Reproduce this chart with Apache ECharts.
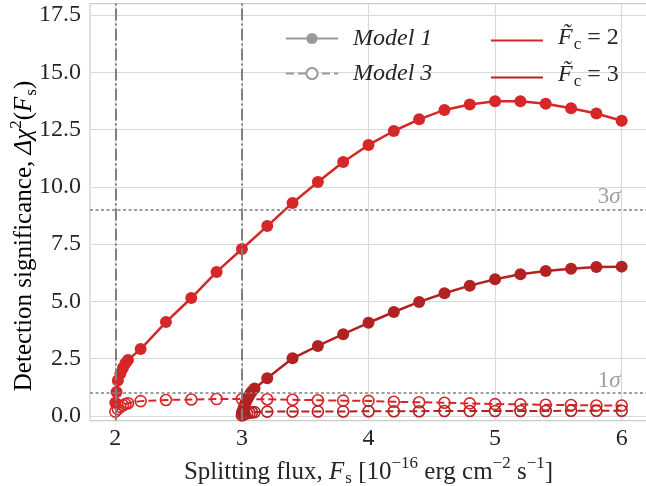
<!DOCTYPE html>
<html>
<head>
<meta charset="utf-8">
<script src="https://cdn.jsdelivr.net/npm/echarts@6/dist/echarts.min.js"></script>
<style>
  html, body { margin: 0; padding: 0; background: #fff; }
  #chart { width: 646px; height: 486px; }
</style>
</head>
<body>
<div id="chart"></div>
<script>
// Model 1, F_c = 2
const m1c2X = [2.0, 2.01, 2.02, 2.04, 2.06, 2.08, 2.1, 2.2, 2.4, 2.6, 2.8, 3.0, 3.2, 3.4, 3.6, 3.8, 4.0, 4.2, 4.4, 4.6, 4.8, 5.0, 5.2, 5.4, 5.6, 5.8, 6.0];
const m1c2Y = [0.58, 1.05, 1.55, 1.85, 2.1, 2.3, 2.45, 2.92, 4.1, 5.15, 6.29, 7.29, 8.29, 9.3, 10.21, 11.09, 11.83, 12.44, 12.95, 13.36, 13.6, 13.74, 13.74, 13.63, 13.43, 13.2, 12.89];
// Model 1, F_c = 3
const m1c3X = [3.0, 3.01, 3.02, 3.03, 3.04, 3.05, 3.06, 3.07, 3.08, 3.1, 3.2, 3.4, 3.6, 3.8, 4.0, 4.2, 4.4, 4.6, 4.8, 5.0, 5.2, 5.4, 5.6, 5.8, 6.0];
const m1c3Y = [0.15, 0.3, 0.45, 0.6, 0.72, 0.82, 0.92, 1.0, 1.08, 1.2, 1.65, 2.52, 3.06, 3.57, 4.07, 4.54, 4.98, 5.36, 5.69, 5.97, 6.19, 6.33, 6.43, 6.5, 6.52];
// Model 3, F_c = 2
const m3c2X = [2.0, 2.02, 2.04, 2.06, 2.08, 2.1, 2.2, 2.4, 2.6, 2.8, 3.0, 3.2, 3.4, 3.6, 3.8, 4.0, 4.2, 4.4, 4.6, 4.8, 5.0, 5.2, 5.4, 5.6, 5.8, 6.0];
const m3c2Y = [0.19, 0.3, 0.4, 0.47, 0.52, 0.56, 0.65, 0.7, 0.72, 0.74, 0.74, 0.73, 0.71, 0.69, 0.67, 0.66, 0.62, 0.6, 0.58, 0.55, 0.52, 0.51, 0.49, 0.48, 0.46, 0.46];
// Model 3, F_c = 3
const m3c3X = [3.0, 3.01, 3.02, 3.04, 3.06, 3.08, 3.1, 3.2, 3.4, 3.6, 3.8, 4.0, 4.2, 4.4, 4.6, 4.8, 5.0, 5.2, 5.4, 5.6, 5.8, 6.0];
const m3c3Y = [0.03, 0.06, 0.09, 0.12, 0.14, 0.16, 0.17, 0.19, 0.2, 0.2, 0.2, 0.21, 0.21, 0.21, 0.22, 0.22, 0.22, 0.22, 0.22, 0.23, 0.23, 0.23];

const xTicks = [2, 3, 4, 5, 6];
const yTicks = [0, 2.5, 5, 7.5, 10, 12.5, 15, 17.5];
const thresholdX = [2, 3];          // vertical dash-dot lines
const sigmaLevels = [1, 9];         // 1 sigma, 3 sigma
const sigmaNames = ['1', '3'];

const RED2 = '#d62728';
const RED3 = '#b22222';
const GRAY = '#808080';
const TXT = '#262626';
const SERIF = '"Liberation Serif", "DejaVu Serif", serif';

function pairs(xs, ys) {
  return xs.map((x, i) => [x, ys[i]]);
}

const baseRich = {
  t: { fontSize: 25, fontFamily: SERIF, color: TXT, padding: [0, 0, 3, 0], verticalAlign: 'bottom' },
  i: { fontSize: 25, fontFamily: SERIF, fontStyle: 'italic', color: TXT, padding: [0, 0, 3, 0], verticalAlign: 'bottom' },
  sub: { fontSize: 17, fontFamily: SERIF, color: TXT, padding: [0, 0, 0, 1], verticalAlign: 'bottom' },
  sup: { fontSize: 17, fontFamily: SERIF, color: TXT, padding: [0, 0, 15, 0], verticalAlign: 'bottom' }
};

var chart = echarts.init(document.getElementById('chart'));

const model1 = { lineStyle: { width: 2.5 }, symbol: 'circle', symbolSize: 12 };
function openStyle(color) {
  return {
    symbol: 'circle',
    symbolSize: 11,
    itemStyle: { color: 'rgba(255,255,255,0)', borderColor: color, borderWidth: 1.6 },
    lineStyle: { color: color, width: 2, type: [8, 4] }
  };
}

let option = {
  animation: false,
  backgroundColor: '#fff',
  grid: {
    left: 90, right: -1, top: 3.6, bottom: 65.4, show: true, borderColor: '#cccccc', borderWidth: 1.2,
    outerBoundsMode: 'none', containLabel: false
  },
  xAxis: {
    type: 'value', min: 1.8, max: 6.2,
    name: '{t|Splitting flux, }{i|F}{sub|s}{t| [10}{sup|−16}{t| erg cm}{sup|−2}{t| s}{sup|−1}{t|]}',
    nameLocation: 'middle', nameGap: 29,
    nameTextStyle: { rich: baseRich },
    axisLine: { show: false }, axisTick: { show: false, customValues: xTicks },
    axisLabel: { customValues: xTicks, fontFamily: SERIF, fontSize: 24, color: TXT, margin: 6, formatter: v => String(v) },
    splitLine: { show: true, lineStyle: { color: '#d9d9d9', width: 1.2 } }
  },
  yAxis: {
    type: 'value', min: -0.2, max: 18,
    axisLine: { show: false }, axisTick: { show: false, customValues: yTicks },
    axisLabel: { customValues: yTicks, fontFamily: SERIF, fontSize: 24, color: TXT, margin: 9, formatter: v => v.toFixed(1) },
    splitLine: { show: true, lineStyle: { color: '#d9d9d9', width: 1.2 } }
  },
  graphic: [{
    type: 'text', x: 24, y: 236, rotation: Math.PI / 2,
    style: {
      text: '{t|Detection significance, }{i|Δχ}{sup|2}{t|(}{i|F}{sub|s}{t|)}',
      rich: baseRich, align: 'center', verticalAlign: 'middle'
    }
  }],
  legend: [
    {
      orient: 'vertical', left: 280, top: 21, itemWidth: 52, itemHeight: 14, itemGap: 10,
      data: ['Model 1', 'Model 3'],
      textStyle: { fontFamily: SERIF, fontStyle: 'italic', fontSize: 24, lineHeight: 25, color: TXT, padding: [0, 0, 0, 10] }
    },
    {
      orient: 'vertical', left: 485, top: 21, itemWidth: 52, itemHeight: 14, itemGap: 10,
      data: ['c2', 'c3'],
      itemStyle: { color: 'rgba(0,0,0,0)', borderColor: 'rgba(0,0,0,0)', borderWidth: 0 },
      formatter: n => '{i|F\u0303}{sub|c}{t| = ' + n.slice(1) + '}',
      textStyle: { padding: [0, 0, 0, 10], rich: {
        t: { fontSize: 24, fontFamily: SERIF, color: TXT, lineHeight: 25, verticalAlign: 'bottom', padding: [0, 0, 3, 0] },
        i: { fontSize: 24, fontFamily: SERIF, fontStyle: 'italic', color: TXT, lineHeight: 25, verticalAlign: 'bottom', padding: [0, 0, 3, 0] },
        sub: { fontSize: 17, fontFamily: SERIF, color: TXT, verticalAlign: 'bottom', padding: [0, 0, 0, 1] }
      } }
    }
  ],
  series: [
    {
      // reference lines and sigma labels
      type: 'line', data: [], silent: true,
      markLine: {
        symbol: 'none', silent: true, label: { show: false },
        data: thresholdX.map(x => ({ xAxis: x, lineStyle: { color: GRAY, width: 2, type: [12, 3, 2, 3] } }))
          .concat(sigmaLevels.map(y => ({ yAxis: y, lineStyle: { color: GRAY, width: 1.6, type: [3, 2.5] } })))
      },
      markPoint: {
        symbol: 'circle', symbolSize: 0, silent: true,
        data: sigmaLevels.map((y, i) => ({
          coord: [6, y],
          label: {
            show: true, position: 'insideBottomRight', distance: 1,
            formatter: '{n|' + sigmaNames[i] + '}{s|σ}',
            rich: {
              n: { fontSize: 23, fontFamily: SERIF, color: '#a0a0a0' },
              s: { fontSize: 23, fontFamily: SERIF, fontStyle: 'italic', color: '#a0a0a0' }
            }
          }
        }))
      }
    },
    Object.assign({ name: 'm1c2', type: 'line', color: RED2, data: pairs(m1c2X, m1c2Y), z: 4 }, model1),
    Object.assign({ name: 'm1c3', type: 'line', color: RED3, data: pairs(m1c3X, m1c3Y), z: 4 }, model1),
    Object.assign({ name: 'm3c2', type: 'line', color: RED2, data: pairs(m3c2X, m3c2Y), z: 3 }, openStyle(RED2)),
    Object.assign({ name: 'm3c3', type: 'line', color: RED3, data: pairs(m3c3X, m3c3Y), z: 3 }, openStyle(RED3)),
    // legend-only entries
    { name: 'Model 1', type: 'line', data: [], color: '#999', symbol: 'circle', lineStyle: { width: 2.5 } },
    { name: 'Model 3', type: 'line', data: [], color: '#999', symbol: 'emptyCircle',
      itemStyle: { borderWidth: 1.6 }, lineStyle: { width: 2.5, type: [8, 4] } },
    { name: 'c2', type: 'line', data: [], color: RED2, symbol: 'none', lineStyle: { width: 2.5 } },
    { name: 'c3', type: 'line', data: [], color: RED3, symbol: 'none', lineStyle: { width: 2.5 } }
  ]
};
chart.setOption(option);
</script>
</body>
</html>
